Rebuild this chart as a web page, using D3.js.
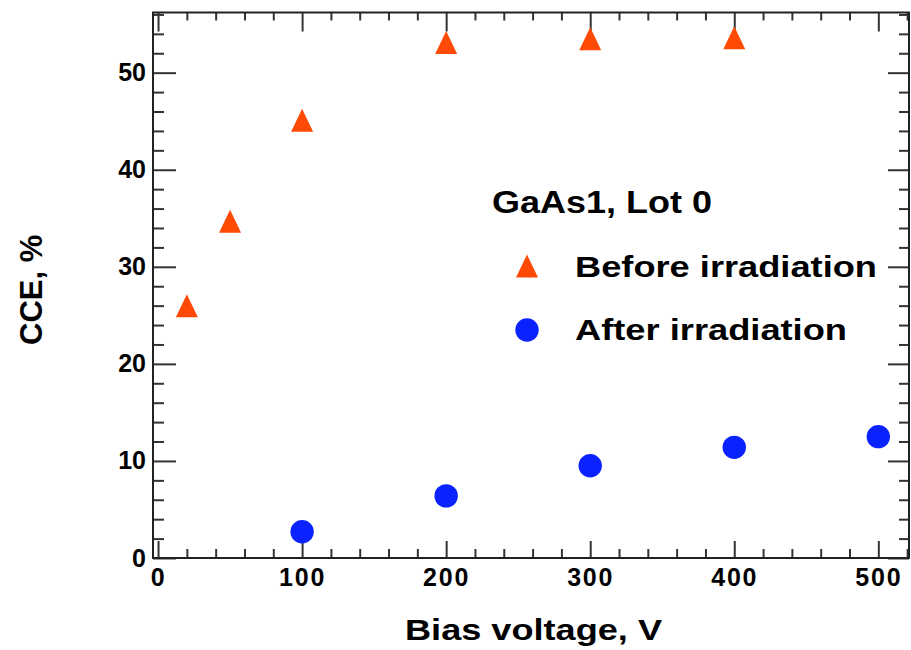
<!DOCTYPE html>
<meta charset="utf-8">
<script src="https://d3js.org/d3.v7.min.js"></script>
<style>
  body { margin: 0; background: #fff; }
  text { font-family: "Liberation Sans", Arial, sans-serif; font-weight: bold; fill: #000; }
</style>
<div id="my_dataviz"></div>
<script>

// data
var beforeVolts = [20, 50, 100, 200, 300, 400];
var beforeCCE   = [26.0, 34.7, 45.1, 53.1, 53.5, 53.6];
var afterVolts  = [100, 200, 300, 400, 500];
var afterCCE    = [2.7, 6.4, 9.5, 11.4, 12.5];
var xTicks = [0, 100, 200, 300, 400, 500];
var yTicks = [0, 10, 20, 30, 40, 50];

var W = 911, H = 650;
var padL = 153, padR = 909, padT = 12.5, padB = 558;

var svg = d3.select("#my_dataviz")
  .append("svg")
    .attr("width", W)
    .attr("height", H);

var x = d3.scaleLinear().domain([-3.5, 521.3]).range([padL, padR]);
var y = d3.scaleLinear().domain([0, 56.2]).range([padB, padT]);

var xMinor = d3.range(0, 521, 20).filter(function(v){ return v % 100 != 0; });
var yMinor = d3.range(0, 57, 2).filter(function(v){ return v % 10 != 0; });

function styleAxis(g) {
  g.attr("font-size", null).attr("font-family", null);
  g.select(".domain").remove();
  g.selectAll("line").attr("stroke", "#333").attr("stroke-width", 2);
}

// bottom axis with labels
svg.append("g")
  .attr("transform", "translate(0," + padB + ")")
  .call(d3.axisBottom(x).tickValues(xTicks).tickSize(-17).tickPadding(10))
  .call(styleAxis)
  .selectAll("text")
    .style("font-size", "25px")
    .style("letter-spacing", "1.8px");
svg.append("g")
  .attr("transform", "translate(0," + padB + ")")
  .call(d3.axisBottom(x).tickValues(xMinor).tickSize(-9).tickFormat(""))
  .call(styleAxis);

// top axis
svg.append("g")
  .attr("transform", "translate(0," + padT + ")")
  .call(d3.axisTop(x).tickValues(xTicks).tickSize(-19).tickFormat(""))
  .call(styleAxis);
svg.append("g")
  .attr("transform", "translate(0," + padT + ")")
  .call(d3.axisTop(x).tickValues(xMinor).tickSize(-8).tickFormat(""))
  .call(styleAxis);

// left axis with labels
svg.append("g")
  .attr("transform", "translate(" + padL + ",0)")
  .call(d3.axisLeft(y).tickValues(yTicks).tickSize(-23).tickPadding(7))
  .call(styleAxis)
  .selectAll("text")
    .style("font-size", "25px");
svg.append("g")
  .attr("transform", "translate(" + padL + ",0)")
  .call(d3.axisLeft(y).tickValues(yMinor).tickSize(-11).tickFormat(""))
  .call(styleAxis);

// right axis
svg.append("g")
  .attr("transform", "translate(" + padR + ",0)")
  .call(d3.axisRight(y).tickValues(yTicks).tickSize(-21).tickFormat(""))
  .call(styleAxis);
svg.append("g")
  .attr("transform", "translate(" + padR + ",0)")
  .call(d3.axisRight(y).tickValues(yMinor).tickSize(-10).tickFormat(""))
  .call(styleAxis);

// frame
svg.append("rect")
  .attr("x", padL).attr("y", padT)
  .attr("width", padR - padL).attr("height", padB - padT)
  .attr("fill", "none")
  .attr("stroke", "#222")
  .attr("stroke-width", 2);

var orange = "#ff4a05", blue = "#0a22ff";
var tri = "M0,-11.5L11,11.5L-11,11.5Z";

// points
svg.selectAll("path.before")
  .data(beforeVolts)
  .enter()
  .append("path")
    .attr("class", "before")
    .attr("d", tri)
    .attr("transform", function(d, i) { return "translate(" + x(d) + "," + y(beforeCCE[i]) + ")"; })
    .attr("fill", orange);

svg.selectAll("circle.after")
  .data(afterVolts)
  .enter()
  .append("circle")
    .attr("class", "after")
    .attr("cx", function(d) { return x(d); })
    .attr("cy", function(d, i) { return y(afterCCE[i]); })
    .attr("r", 11.7)
    .attr("fill", blue);

// legend
svg.append("text")
  .attr("x", 492).attr("y", 213)
  .style("font-size", "31px")
  .attr("textLength", 220).attr("lengthAdjust", "spacingAndGlyphs")
  .text("GaAs1, Lot 0");

svg.append("path")
  .attr("d", tri)
  .attr("transform", "translate(527,266)")
  .attr("fill", orange);
svg.append("text")
  .attr("x", 575).attr("y", 277)
  .style("font-size", "30px")
  .attr("textLength", 302).attr("lengthAdjust", "spacingAndGlyphs")
  .text("Before irradiation");

svg.append("circle")
  .attr("cx", 527).attr("cy", 330).attr("r", 11.7)
  .attr("fill", blue);
svg.append("text")
  .attr("x", 575).attr("y", 340)
  .style("font-size", "30px")
  .attr("textLength", 272).attr("lengthAdjust", "spacingAndGlyphs")
  .text("After irradiation");

// axis titles
svg.append("text")
  .attr("x", 405).attr("y", 640)
  .style("font-size", "30px")
  .attr("textLength", 257).attr("lengthAdjust", "spacingAndGlyphs")
  .text("Bias voltage, V");

svg.append("text")
  .attr("transform", "translate(42,345)rotate(-90)")
  .style("font-size", "31px")
  .text("CCE, %");

</script>
